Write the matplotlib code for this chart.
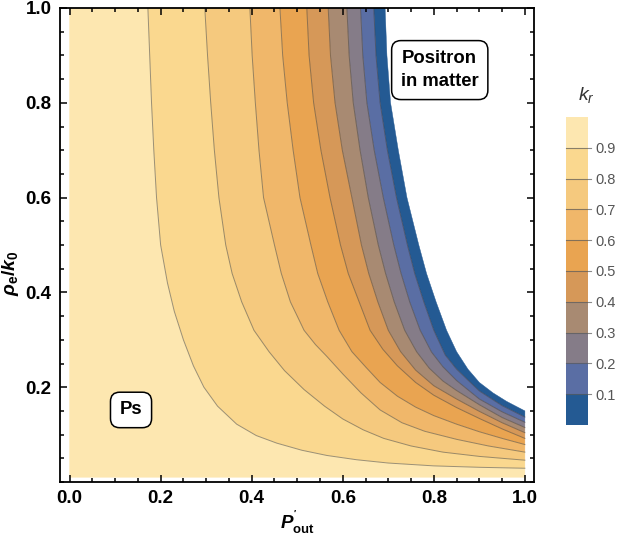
import numpy as np
import matplotlib
matplotlib.use("Agg")
import matplotlib.pyplot as plt
from matplotlib.ticker import MultipleLocator

plt.rcParams['font.family'] = ['Liberation Sans', 'DejaVu Sans']
plt.rcParams['mathtext.fontset'] = 'custom'
plt.rcParams['mathtext.it'] = 'Liberation Sans:italic:bold'
plt.rcParams['mathtext.rm'] = 'Liberation Sans:bold'
plt.rcParams['mathtext.sf'] = 'Liberation Sans:italic'

# contour levels of k_r and the band colours (low -> high)
levels = [0.0, 0.1, 0.2, 0.3, 0.4, 0.5, 0.6, 0.7, 0.8, 0.9, 1.0]
band_colors = ['#245a93', '#5a6ea4', '#857c88', '#a88a72', '#d69858',
               '#e9a451', '#f0b76a', '#f5c97e', '#fad88f', '#fde7b0']

# contour traces, from the top edge down to the right edge
c00_x = [0.693, 0.697, 0.705, 0.722, 0.741, 0.767, 0.784, 0.805, 0.828, 0.850, 0.875, 0.900, 0.930, 0.960, 1.000]
c00_y = [1.000, 0.900, 0.800, 0.700, 0.600, 0.500, 0.440, 0.380, 0.320, 0.275, 0.238, 0.210, 0.188, 0.170, 0.150]
c01_x = [0.668, 0.673, 0.682, 0.698, 0.718, 0.742, 0.758, 0.778, 0.800, 0.825, 0.850, 0.900, 0.950, 1.000]
c01_y = [1.000, 0.900, 0.800, 0.700, 0.600, 0.500, 0.440, 0.380, 0.320, 0.268, 0.238, 0.192, 0.161, 0.137]
c02_x = [0.639, 0.644, 0.653, 0.669, 0.689, 0.712, 0.728, 0.747, 0.770, 0.795, 0.820, 0.850, 0.900, 0.950, 1.000]
c02_y = [1.000, 0.900, 0.800, 0.700, 0.600, 0.500, 0.440, 0.380, 0.320, 0.274, 0.243, 0.214, 0.175, 0.148, 0.126]
c03_x = [0.609, 0.614, 0.623, 0.638, 0.656, 0.678, 0.694, 0.713, 0.736, 0.762, 0.790, 0.820, 0.850, 0.900, 0.950, 1.000]
c03_y = [1.000, 0.900, 0.800, 0.700, 0.600, 0.500, 0.440, 0.380, 0.320, 0.275, 0.240, 0.213, 0.193, 0.163, 0.136, 0.115]
c04_x = [0.568, 0.573, 0.583, 0.599, 0.620, 0.641, 0.657, 0.677, 0.700, 0.727, 0.760, 0.800, 0.850, 0.900, 0.950, 1.000]
c04_y = [1.000, 0.900, 0.800, 0.700, 0.600, 0.500, 0.440, 0.380, 0.320, 0.275, 0.236, 0.203, 0.175, 0.149, 0.125, 0.104]
c05_x = [0.521, 0.526, 0.536, 0.552, 0.572, 0.595, 0.612, 0.636, 0.660, 0.688, 0.720, 0.760, 0.800, 0.850, 0.900, 0.950, 1.000]
c05_y = [1.000, 0.900, 0.800, 0.700, 0.600, 0.500, 0.440, 0.380, 0.320, 0.280, 0.245, 0.210, 0.183, 0.157, 0.134, 0.112, 0.092]
c06_x = [0.462, 0.468, 0.478, 0.491, 0.506, 0.530, 0.545, 0.567, 0.592, 0.620, 0.650, 0.682, 0.720, 0.760, 0.800, 0.850, 0.900, 0.950, 1.000]
c06_y = [1.000, 0.900, 0.800, 0.700, 0.600, 0.500, 0.440, 0.380, 0.320, 0.275, 0.243, 0.210, 0.181, 0.158, 0.140, 0.122, 0.106, 0.092, 0.079]
c07_x = [0.396, 0.401, 0.408, 0.416, 0.426, 0.450, 0.465, 0.485, 0.515, 0.540, 0.565, 0.600, 0.640, 0.682, 0.730, 0.780, 0.850, 0.920, 1.000]
c07_y = [1.000, 0.900, 0.800, 0.700, 0.600, 0.500, 0.440, 0.380, 0.320, 0.290, 0.265, 0.228, 0.188, 0.152, 0.125, 0.107, 0.090, 0.076, 0.063]
c08_x = [0.297, 0.303, 0.310, 0.318, 0.328, 0.343, 0.357, 0.378, 0.405, 0.438, 0.472, 0.515, 0.560, 0.600, 0.645, 0.690, 0.750, 0.820, 0.900, 1.000]
c08_y = [1.000, 0.900, 0.800, 0.700, 0.600, 0.500, 0.440, 0.380, 0.320, 0.275, 0.235, 0.195, 0.160, 0.133, 0.110, 0.092, 0.076, 0.063, 0.054, 0.046]
c09_x = [0.172, 0.176, 0.180, 0.185, 0.191, 0.200, 0.215, 0.230, 0.250, 0.272, 0.295, 0.325, 0.367, 0.410, 0.455, 0.510, 0.565, 0.630, 0.700, 0.800, 0.900, 1.000]
c09_y = [1.000, 0.900, 0.800, 0.700, 0.600, 0.500, 0.420, 0.360, 0.300, 0.245, 0.200, 0.160, 0.122, 0.098, 0.082, 0.067, 0.056, 0.047, 0.040, 0.034, 0.031, 0.029]

contours = [(c00_x, c00_y), (c01_x, c01_y), (c02_x, c02_y), (c03_x, c03_y),
            (c04_x, c04_y), (c05_x, c05_y), (c06_x, c06_y), (c07_x, c07_y),
            (c08_x, c08_y), (c09_x, c09_y)]

x_min, y_min = 0.0, 0.01

fig = plt.figure(figsize=(6.17, 5.40), dpi=100)
ax = fig.add_axes([60 / 617, 58 / 540, 474 / 617, 474 / 540])

# bands between neighbouring contours
for i in range(9):
    ox, oy = contours[i]
    ix, iy = contours[i + 1]
    px = list(ix) + list(ox[::-1])
    py = list(iy) + list(oy[::-1])
    ax.fill(px, py, color=band_colors[i], lw=0.3, ec=band_colors[i])
# top band (0.9 .. 1)
tx, ty = contours[9]
ax.fill([x_min, x_min] + list(tx) + [1.0], [y_min, 1.0] + list(ty) + [y_min],
        color=band_colors[9], lw=0.3, ec=band_colors[9])

for cx, cy in contours[1:]:
    ax.plot(cx, cy, color='#3a3a3a', lw=0.7, alpha=0.5)

ax.set_xlim(-0.021, 1.02)
ax.set_ylim(0.0, 1.0)
ax.xaxis.set_major_locator(MultipleLocator(0.2))
ax.xaxis.set_minor_locator(MultipleLocator(0.05))
ax.yaxis.set_minor_locator(MultipleLocator(0.05))
ax.set_yticks([0.2, 0.4, 0.6, 0.8, 1.0])
ax.tick_params(which='both', direction='in', top=True, right=True, width=1.1, color='black')
ax.tick_params(which='major', length=5, labelsize=13.5, pad=6)
ax.tick_params(which='minor', length=3)
for lab in ax.get_xticklabels() + ax.get_yticklabels():
    lab.set_fontweight('bold')
for sp in ax.spines.values():
    sp.set_linewidth(1.3)

ax.set_xlabel(r"$P^{'}_{\mathrm{out}}$", fontsize=13.5, labelpad=1)
ax.set_ylabel(r"$\rho_{\mathrm{e}}/k_{0}$", fontsize=14)
ax.yaxis.set_label_coords(-0.083, 0.44)

box = dict(boxstyle='round,pad=0.5,rounding_size=0.5', fc='white', ec='black', lw=1.1)
ax.text(0.135, 0.152, 'Ps', fontsize=13.3, fontweight='bold', ha='center', va='center', bbox=box)
ax.text(0.813, 0.869, 'Positron\nin matter', fontsize=13.3, fontweight='bold', ha='center',
        va='center', linespacing=1.5, bbox=box)

# legend bar
cax = fig.add_axes([566 / 617, 115 / 540, 22 / 617, 308 / 540])
for i in range(10):
    cax.fill_between([0, 1], levels[i], levels[i + 1], color=band_colors[i], lw=0)
for lv in levels[1:-1]:
    cax.plot([0, 1.15], [lv, lv], color='#5a5a5a', lw=0.8, alpha=0.7, clip_on=False)
cax.set_xlim(0, 1)
cax.set_ylim(0, 1)
cax.set_xticks([])
cax.set_yticks(levels[1:-1])
cax.set_yticklabels(['%.1f' % v for v in levels[1:-1]])
cax.yaxis.tick_right()
cax.tick_params(axis='y', length=0, pad=5, labelsize=10.5, labelcolor='#555555')
for sp in cax.spines.values():
    sp.set_visible(False)
fig.text(586 / 617, 1 - 95 / 540, r"$\mathsf{k}_{\mathsf{r}}$", fontsize=14, ha='center',
         va='center', color='#333333')

fig.savefig('out.png', dpi=100)
